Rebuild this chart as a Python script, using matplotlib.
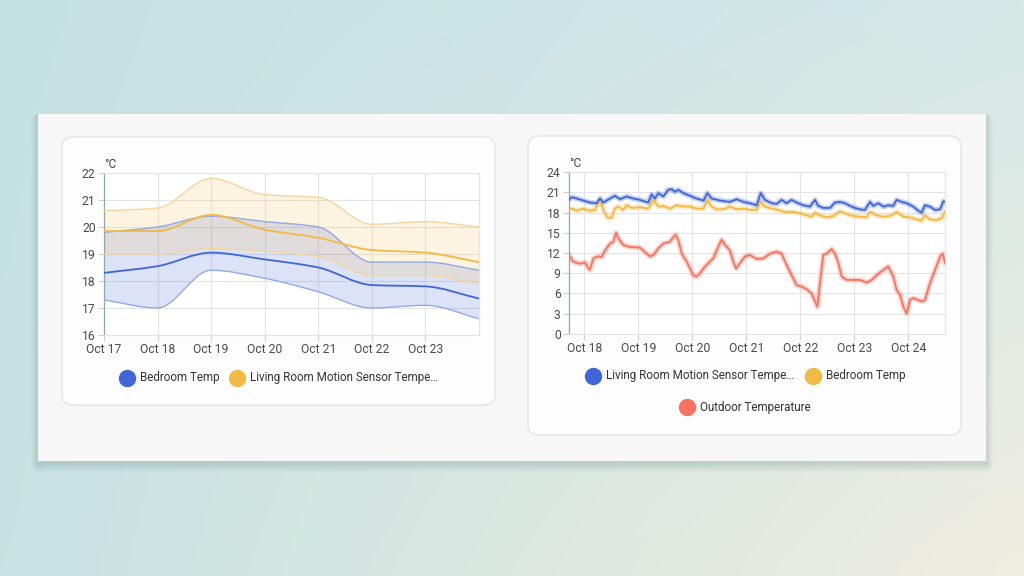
import numpy as np
import matplotlib
matplotlib.use("Agg")
import matplotlib.pyplot as plt
import matplotlib.dates as mdates
from matplotlib.path import Path
from matplotlib.patches import PathPatch, FancyBboxPatch, Rectangle
from matplotlib.lines import Line2D
from datetime import datetime, timedelta

plt.rcParams['font.family'] = ['Roboto', 'DejaVu Sans']

# ---- left card: daily statistics (min / mean / max) ----
left_days = ['2023-10-17', '2023-10-18', '2023-10-19', '2023-10-20',
             '2023-10-21', '2023-10-22', '2023-10-23', '2023-10-24']
bed_mean = [18.3, 18.55, 19.05, 18.8, 18.5, 17.85, 17.8, 17.35]
bed_max = [19.8, 20.0, 20.4, 20.2, 20.0, 18.7, 18.7, 18.4]
bed_min = [17.3, 17.0, 18.4, 18.1, 17.6, 17.0, 17.1, 16.6]
liv_mean = [19.85, 19.85, 20.45, 19.9, 19.6, 19.15, 19.05, 18.7]
liv_max = [20.6, 20.7, 21.8, 21.2, 21.1, 20.1, 20.2, 20.0]
liv_min = [19.0, 19.0, 19.2, 19.1, 18.9, 18.2, 18.2, 17.9]

# ---- right card: hourly-ish history, hours from Oct 18 00:00 ----
out_hours = [-6.8, -4.9, -1.9, 0.3, 1.8, 2.5, 4.0, 6.2, 7.7, 9.2, 11.4, 12.9, 14.1, 15.1,
             17.3, 20.3, 24.7, 27.7, 29.2, 30.7, 32.9, 35.1, 38.1, 39.6, 40.6, 41.8, 43.3,
             45.5, 47.0, 48.4, 49.9, 51.4, 52.9, 55.1, 57.3, 58.8, 61.0, 62.5, 64.7, 66.2,
             67.4, 69.2, 71.4, 73.6, 76.6, 79.6, 82.5, 85.5, 87.7, 89.9, 92.1, 94.4, 96.6,
             98.8, 101.0, 102.5, 103.6, 104.7, 106.2, 107.7, 109.9, 111.4, 112.9, 114.4,
             116.6, 119.6, 122.5, 125.5, 127.7, 129.9, 132.9, 135.1, 137.3, 138.8, 140.3,
             141.8, 143.3, 144.7, 146.2, 147.7, 149.9, 151.4, 153.6, 155.9, 158.1, 159.3, 160.3]
out_temp = [11.7, 10.7, 10.4, 10.6, 9.7, 9.5, 11.2, 11.5, 11.4, 12.4, 13.4, 13.7, 15.0, 14.2,
            13.2, 12.9, 12.8, 11.9, 11.5, 11.7, 12.7, 13.4, 13.7, 14.4, 14.7, 13.9, 11.9,
            10.7, 9.7, 8.7, 8.5, 9.0, 9.7, 10.5, 11.2, 12.4, 14.0, 13.2, 12.4, 10.7,
            9.7, 10.5, 11.5, 11.7, 11.1, 11.2, 11.9, 12.2, 11.9, 10.2, 8.7, 7.2, 7.0,
            6.6, 6.0, 4.8, 4.0, 7.5, 11.7, 11.9, 12.6, 11.9, 10.5, 8.5,
            8.0, 8.0, 8.0, 7.6, 8.0, 8.7, 9.5, 10.0, 8.5, 6.5, 5.8,
            4.0, 3.0, 5.0, 5.3, 5.1, 4.8, 5.0, 7.5, 9.5, 11.5, 11.9, 10.5]

liv_hours = [-6.8, -5.6, -3.4, -0.4, 2.5, 5.5, 7.0, 8.4, 11.4, 13.6, 15.9, 18.8, 21.8, 24.7,
             28.4, 29.9, 31.4, 32.9, 35.1, 37.3, 38.8, 40.3, 41.8, 44.0, 47.0, 49.9, 52.9,
             54.7, 56.6, 60.3, 64.7, 67.7, 70.7, 73.6, 76.6, 78.4, 80.3, 83.3, 85.5, 87.7,
             89.9, 92.1, 94.4, 97.3, 100.3, 102.5, 104.0, 106.2, 109.2, 111.4, 113.6, 115.9,
             118.1, 120.3, 122.5, 124.7, 127.0, 128.4, 130.7, 132.9, 135.1, 137.3, 138.8,
             141.0, 143.3, 146.2, 148.4, 149.9, 151.4, 153.6, 155.9, 158.1, 159.6, 160.3]
liv_temp = [19.9, 20.3, 20.1, 19.8, 19.5, 19.4, 20.1, 19.5, 20.1, 20.5, 20.0, 20.4, 20.1, 19.9,
            19.5, 20.7, 20.1, 20.9, 20.4, 21.4, 21.5, 21.1, 21.4, 20.9, 20.5, 20.1, 19.8,
            20.9, 20.1, 19.8, 19.6, 20.0, 19.6, 19.4, 19.1, 20.9, 19.9, 19.4, 19.3, 19.9,
            19.4, 19.9, 19.5, 19.1, 18.9, 19.9, 19.0, 18.7, 18.7, 19.5, 19.6, 19.4,
            19.0, 18.7, 18.5, 18.4, 19.6, 19.0, 19.4, 18.9, 19.1, 19.0, 19.9,
            19.6, 19.4, 18.9, 18.3, 18.0, 19.1, 18.9, 18.4, 18.5, 19.7, 19.6]

bed_hours = [-6.8, -5.6, -3.4, -0.4, 1.8, 4.7, 7.0, 8.4, 10.2, 12.1, 13.6, 15.1, 17.3, 18.8,
             21.0, 24.7, 28.4, 30.7, 32.9, 35.1, 38.1, 41.0, 44.0, 47.0, 49.9, 52.9, 54.7,
             56.6, 58.8, 61.8, 64.7, 67.7, 70.7, 73.6, 76.6, 78.4, 80.3, 83.3, 86.2, 89.2,
             92.9, 95.9, 98.8, 101.0, 102.5, 104.7, 107.7, 110.7, 113.6, 116.6, 119.6, 122.5,
             125.5, 127.0, 129.9, 132.9, 135.9, 138.8, 141.8, 144.7, 147.7, 149.9, 151.4,
             153.6, 156.6, 158.8, 160.3]
bed_temp = [18.4, 18.6, 18.3, 18.6, 18.3, 18.4, 19.9, 18.4, 17.3, 17.2, 18.6, 18.9, 18.4, 19.1,
            18.7, 18.8, 18.6, 19.9, 18.9, 19.0, 18.6, 19.1, 18.9, 18.9, 18.6, 18.6, 19.9,
            18.9, 18.5, 18.5, 18.9, 18.5, 18.6, 18.4, 18.4, 19.6, 18.9, 18.6, 18.4, 18.1,
            18.1, 17.9, 17.6, 17.4, 18.0, 17.6, 17.3, 17.5, 18.2, 17.8, 17.5, 17.4,
            17.3, 18.1, 17.6, 17.4, 17.5, 18.1, 17.4, 17.3, 17.0, 16.8, 17.6,
            17.0, 16.9, 17.2, 18.1]

left_ticks = [16, 17, 18, 19, 20, 21, 22]
right_ticks = [0, 3, 6, 9, 12, 15, 18, 21, 24]

BLUE = '#3f66d9'
ORANGE = '#f2b944'
RED = '#f9725f'


def monotone_verts(x, y):
    # bezier control points for a monotone cubic through the points
    x = np.asarray(x, float)
    y = np.asarray(y, float)
    h = np.diff(x)
    d = np.diff(y) / h
    m = np.zeros_like(y)
    m[0], m[-1] = d[0], d[-1]
    for k in range(1, len(y) - 1):
        if d[k - 1] * d[k] > 0:
            m[k] = 2.0 / (1.0 / d[k - 1] + 1.0 / d[k])
    verts = [(x[0], y[0])]
    for k in range(len(h)):
        verts.append((x[k] + h[k] / 3, y[k] + m[k] * h[k] / 3))
        verts.append((x[k + 1] - h[k] / 3, y[k + 1] - m[k + 1] * h[k] / 3))
        verts.append((x[k + 1], y[k + 1]))
    return verts


def curve(ax, x, y, **kw):
    v = monotone_verts(x, y)
    codes = [Path.MOVETO] + [Path.CURVE4] * (len(v) - 1)
    ax.add_patch(PathPatch(Path(v, codes), fill=False, **kw))


def band(ax, x, lo, hi, **kw):
    a = monotone_verts(x, lo)
    b = monotone_verts(x, hi)[::-1]
    v = a + b + [a[0]]
    codes = ([Path.MOVETO] + [Path.CURVE4] * (len(a) - 1) + [Path.LINETO]
             + [Path.CURVE4] * (len(b) - 1) + [Path.CLOSEPOLY])
    ax.add_patch(PathPatch(Path(v, codes), lw=0, **kw))


def style_axes(ax, yticks):
    ax.set_facecolor('white')
    ax.set_yticks(yticks)
    ax.set_ylim(yticks[0], yticks[-1])
    ax.grid(True, color='#e4e4e4', lw=0.8)
    ax.set_axisbelow(True)
    for s in ['top', 'right', 'bottom']:
        ax.spines[s].set_color('#e4e4e4')
        ax.spines[s].set_linewidth(0.8)
    ax.spines['left'].set_color('#8fa9a5')
    ax.spines['left'].set_linewidth(0.9)
    ax.xaxis.set_major_locator(mdates.DayLocator())
    ax.xaxis.set_major_formatter(mdates.DateFormatter('%b %d'))
    ax.tick_params(axis='both', labelsize=8.7, colors='#d0d0d0', labelcolor='#4a4a4a',
                   length=4, width=0.8, pad=2)


fig = plt.figure(figsize=(10.24, 5.76), dpi=100)

# page background, panel and cards (pixel space)
bg = fig.add_axes([0, 0, 1, 1])
bg.set_xlim(0, 1024)
bg.set_ylim(576, 0)
bg.axis('off')
tl, tr = np.array([196, 225, 226]), np.array([212, 232, 231])
bl, br = np.array([198, 226, 226]), np.array([240, 237, 224])
gx = np.linspace(0, 1, 64)[None, :, None]
gy = np.linspace(0, 1, 36)[:, None, None]
grad = (tl * (1 - gx) * (1 - gy) + tr * gx * (1 - gy) + bl * (1 - gx) * gy + br * gx * gy) / 255
bg.imshow(grad, extent=[0, 1024, 576, 0], aspect='auto', interpolation='bicubic', zorder=0)
# soft shadow under the panel
for k in range(8, 0, -1):
    bg.add_patch(FancyBboxPatch((38 - k * 0.8, 114 + 2 - k * 0.3), 948 + k * 1.6, 347 + k * 1.4,
                                boxstyle='round,pad=0,rounding_size=%d' % k,
                                fc='#7f9f9f', ec='none', alpha=0.045, zorder=1))
bg.add_patch(Rectangle((38, 114), 948, 347, color='#f7f7f7', lw=0, zorder=2))
for (x0, y0, w, hgt) in [(62, 137, 433, 268), (528, 136, 433, 299)]:
    bg.add_patch(FancyBboxPatch((x0, y0), w, hgt, boxstyle='round,pad=0,rounding_size=11',
                                fc='#fdfdfd', ec='#e2e2e2', lw=0.9, zorder=3))

# left chart
ax1 = fig.add_axes([104 / 1024, 1 - 335 / 576, 375 / 1024, 162 / 576])
style_axes(ax1, left_ticks)
xd = mdates.date2num([datetime.strptime(d, '%Y-%m-%d') for d in left_days])
band(ax1, xd, bed_min, bed_max, fc=BLUE, alpha=0.18, zorder=2)
band(ax1, xd, liv_min, liv_max, fc=ORANGE, alpha=0.16, zorder=2)
curve(ax1, xd, bed_min, ec='#93a8e6', lw=1.0, zorder=3)
curve(ax1, xd, bed_max, ec='#93a8e6', lw=1.0, zorder=3)
curve(ax1, xd, liv_min, ec='#f6d59c', lw=1.0, zorder=3)
curve(ax1, xd, liv_max, ec='#f6d59c', lw=1.0, zorder=3)
curve(ax1, xd, bed_mean, ec=BLUE, lw=1.3, zorder=4)
curve(ax1, xd, liv_mean, ec=ORANGE, lw=1.3, zorder=4)
ax1.set_xlim(xd[0], xd[-1])
ax1.set_xticks(xd[:-1])
ax1.text(0.0, 1.03, '°C', transform=ax1.transAxes, fontsize=8.6, color='#444')

# right chart
ax2 = fig.add_axes([569 / 1024, 1 - 333.7 / 576, 376 / 1024, 161.4 / 576])
style_axes(ax2, right_ticks)
base = datetime(2023, 10, 18)
for hrs, vals, col in [(out_hours, out_temp, RED), (bed_hours, bed_temp, ORANGE),
                       (liv_hours, liv_temp, BLUE)]:
    t = [base + timedelta(hours=hh) for hh in hrs]
    ax2.plot(t, vals, color=col, lw=3.8, alpha=0.32, solid_joinstyle='round', zorder=2)
    ax2.plot(t, vals, color=col, lw=1.3, zorder=3)
ax2.set_xlim(base + timedelta(hours=-6.8), base + timedelta(hours=160.3))
ax2.text(0.0, 1.03, '°C', transform=ax2.transAxes, fontsize=8.6, color='#444')

# legends (pixel positions on the cards)
legend_items = [(127, 378, BLUE, 'Bedroom Temp'),
                (237, 378, ORANGE, 'Living Room Motion Sensor Tempe…'),
                (593, 376, BLUE, 'Living Room Motion Sensor Tempe…'),
                (813, 376, ORANGE, 'Bedroom Temp'),
                (687, 407, RED, 'Outdoor Temperature')]
for cx, cy, col, label in legend_items:
    bg.add_line(Line2D([cx], [cy], marker='o', markersize=11.5, color=col, lw=0, zorder=5))
    bg.text(cx + 12.5, cy, label, fontsize=8.35, color='#333333', va='center', ha='left', zorder=5)

fig.savefig('out.png', dpi=100)
